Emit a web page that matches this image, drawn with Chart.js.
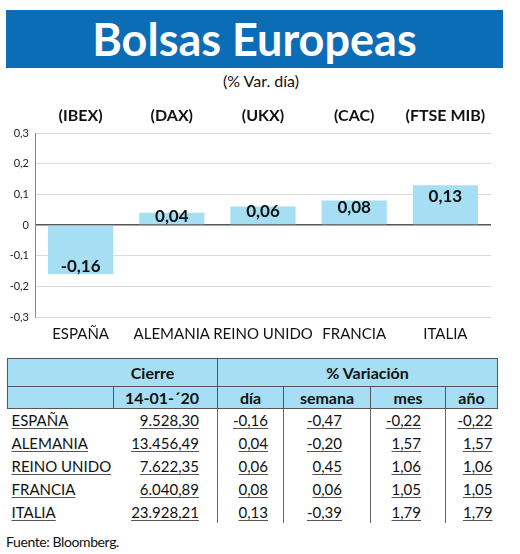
<!DOCTYPE html>
<html>
<head>
<meta charset="utf-8">
<script src="https://cdn.jsdelivr.net/npm/chart.js@4"></script>
<style>
  body { margin: 0; background: #fff; font-family: Lato, sans-serif; color: #111; }
  #page { position: relative; width: 520px; height: 554px; overflow: hidden; }
  #header { position: absolute; left: 6px; top: 10px; width: 497px; height: 58px; background: #0b6db6;
    color: #fff; font-weight: bold; font-size: 45px; line-height: 58px; text-align: center; }
  #sub { position: absolute; left: 0; top: 71px; width: 522px; text-align: center; font-size: 16px; }
  #chartBox { position: absolute; left: 0; top: 95px; width: 520px; height: 262px; }
  #tabla { position: absolute; left: 7px; top: 358px; width: 490px; border-collapse: collapse; table-layout: fixed; font-size: 15px; }
  #tabla th { background: #a6def4; font-weight: bold; font-size: 16px; border: 1px solid #555; padding: 0; }
  #tabla td { padding: 0; height: 22.8px; text-decoration: underline; text-decoration-color: #555; text-underline-offset: 2px; }
  #fuente { position: absolute; left: 6px; top: 533px; font-size: 14px; letter-spacing: -0.4px; }
</style>
</head>
<body>
<div id="page">
  <div id="header">Bolsas Europeas</div>
  <div id="sub">(% Var. día)</div>
  <div id="chartBox"><canvas id="barChart"></canvas></div>
  <table id="tabla"></table>
  <div id="fuente">Fuente: Bloomberg.</div>
</div>
<script>
// datos del grafico
const categories = ['ESPAÑA', 'ALEMANIA', 'REINO UNIDO', 'FRANCIA', 'ITALIA'];
const tickers = ['(IBEX)', '(DAX)', '(UKX)', '(CAC)', '(FTSE MIB)'];
const dayChange = [-0.16, 0.04, 0.06, 0.08, 0.13];
const yTicks = [-0.3, -0.2, -0.1, 0, 0.1, 0.2, 0.3];

// datos de la tabla
const closeDate = '14-01-´20';
const closeValues = ['9.528,30', '13.456,49', '7.622,35', '6.040,89', '23.928,21'];
const weekChange = [-0.47, -0.20, 0.45, 0.06, -0.39];
const monthChange = [-0.22, 1.57, 1.06, 1.05, 1.79];
const yearChange = [-0.22, 1.57, 1.06, 1.05, 1.79];

const fmt = (v) => v.toFixed(2).replace('.', ',');

// tabla
const tabla = document.getElementById('tabla');
let html = '<colgroup><col style="width:106px"><col style="width:104px"><col style="width:66px">' +
  '<col style="width:87px"><col style="width:75px"><col style="width:52px"></colgroup>';
html += '<tr style="height:28px"><th colspan="2" style="padding-left:80px">Cierre</th>' +
  '<th colspan="4" style="padding-left:20px">% Variación</th></tr>';
html += '<tr style="height:22px"><th></th><th style="text-align:right;padding-right:18px">' + closeDate + '</th>' +
  '<th>día</th><th>semana</th><th>mes</th><th>año</th></tr>';
const sep = 'border-left:1px solid #666;';
categories.forEach((c, i) => {
  html += '<tr>' +
    '<td style="padding-left:4px">' + c + '</td>' +
    '<td style="text-align:right;padding-right:18px">' + closeValues[i] + '</td>' +
    '<td style="text-align:right;padding-right:15px;' + sep + '">' + fmt(dayChange[i]) + '</td>' +
    '<td style="text-align:right;padding-right:28px;' + sep + '">' + fmt(weekChange[i]) + '</td>' +
    '<td style="text-align:right;padding-right:24px;' + sep + '">' + fmt(monthChange[i]) + '</td>' +
    '<td style="text-align:right;padding-right:5px;' + sep + '">' + fmt(yearChange[i]) + '</td>' +
    '</tr>';
});
tabla.innerHTML = html;

// etiquetas de valor dentro de las barras
const barLabels = {
  id: 'barLabels',
  afterDatasetsDraw(chart) {
    const ctx = chart.ctx;
    const meta = chart.getDatasetMeta(0);
    ctx.save();
    ctx.font = 'bold 17px Lato';
    ctx.fillStyle = '#111';
    ctx.textAlign = 'center';
    ctx.textBaseline = 'middle';
    meta.data.forEach((bar, i) => {
      const v = dayChange[i];
      const ty = v >= 0 ? bar.y + 0.3 * (bar.base - bar.y) : bar.y - 8;
      ctx.fillText(fmt(v), bar.x, ty);
    });
    ctx.restore();
  }
};

new Chart(document.getElementById('barChart'), {
  type: 'bar',
  data: {
    labels: categories,
    datasets: [{
      data: dayChange,
      backgroundColor: '#a6def4',
      categoryPercentage: 1,
      barPercentage: 0.715
    }]
  },
  options: {
    responsive: true,
    maintainAspectRatio: false,
    animation: false,
    layout: { padding: { left: 0, right: 29, top: 0, bottom: 0 } },
    plugins: { legend: { display: false }, tooltip: { enabled: false } },
    scales: {
      x: {
        position: 'bottom',
        grid: { display: false },
        border: { display: false },
        ticks: { color: '#111', font: { family: 'Lato', size: 15 }, padding: 0, maxRotation: 0, autoSkip: false },
        afterFit: (s) => { s.height = 40; }
      },
      x2: {
        type: 'category',
        position: 'top',
        labels: tickers,
        offset: true,
        grid: { display: false },
        border: { display: false },
        ticks: { color: '#111', font: { family: 'Lato', size: 16, weight: 'bold' }, padding: 0, maxRotation: 0, autoSkip: false },
        afterFit: (s) => { s.height = 38; }
      },
      y: {
        min: -0.3,
        max: 0.3,
        afterBuildTicks: (s) => { s.ticks = yTicks.map((v) => ({ value: v })); },
        grid: {
          drawTicks: false,
          color: (c) => c.tick && c.tick.value === 0 ? '#555' : '#dadada',
          lineWidth: (c) => c.tick && c.tick.value === 0 ? 1.5 : 1
        },
        border: { color: '#888', width: 1 },
        ticks: {
          color: '#222',
          font: { family: 'Lato', size: 11 },
          padding: 6,
          callback: (v) => v === 0 ? '0' : v.toFixed(1).replace('.', ',')
        },
        afterFit: (s) => { s.width = 35; }
      }
    }
  },
  plugins: [barLabels]
});
</script>
</body>
</html>
